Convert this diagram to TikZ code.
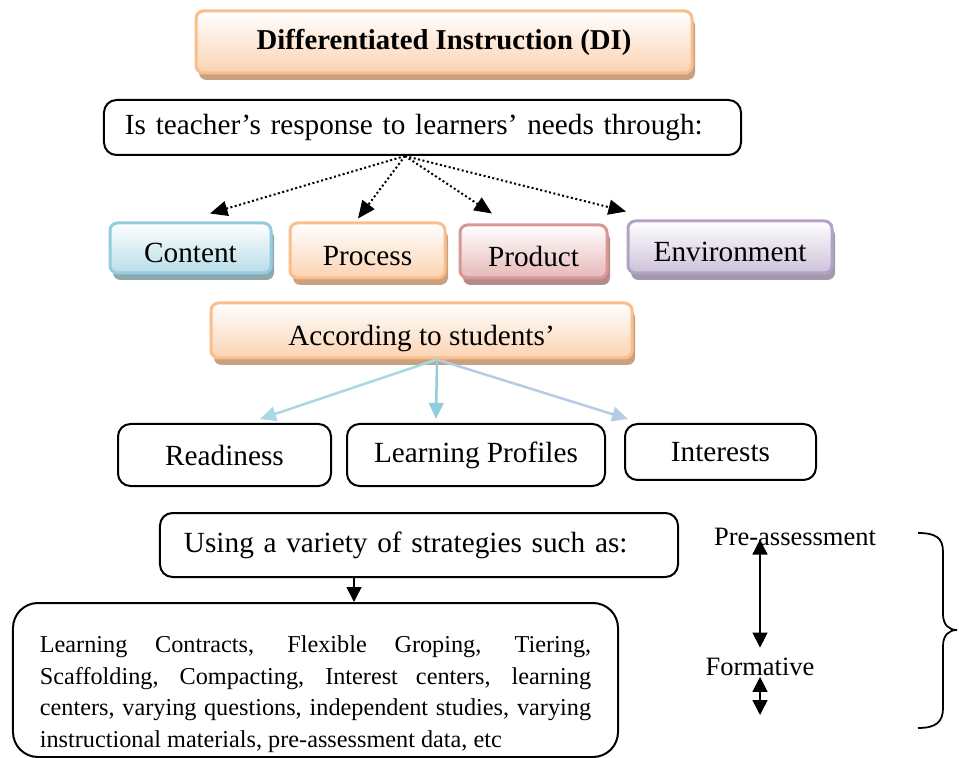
\documentclass[tikz,border=0pt]{standalone}
\usepackage{fontspec}
\setmainfont{Liberation Serif}
\usetikzlibrary{arrows.meta,shadows}

\definecolor{peachline}{HTML}{F9BE8C}
\definecolor{peachfill}{HTML}{FBD3B2}
\definecolor{peachshade}{HTML}{C9A080}
\definecolor{aqualine}{HTML}{93CDDD}
\definecolor{aquafill}{HTML}{B7DDE8}
\definecolor{aquashade}{HTML}{8FA8B0}
\definecolor{roseline}{HTML}{D99694}
\definecolor{rosefill}{HTML}{E6B9B8}
\definecolor{roseshade}{HTML}{B28B8A}
\definecolor{lilacline}{HTML}{B3A2C7}
\definecolor{lilacfill}{HTML}{CCC1DA}
\definecolor{lilacshade}{HTML}{A29BAD}
\definecolor{skyA}{HTML}{A9D8E6}
\definecolor{skyB}{HTML}{92CCDC}
\definecolor{skyC}{HTML}{B6CBE6}

\begin{document}
\begin{tikzpicture}[x=0.4pt,y=-0.4pt,
  size/.style 2 args={minimum width=#1*0.4pt,minimum height=#2*0.4pt},
  colbox/.style={draw=#1line,top color=white,bottom color=#1fill,
    line width=1.2pt,rounded corners=3pt,inner sep=0pt,text height=12pt,text depth=0pt,
    drop shadow={shadow xshift=1.2pt,shadow yshift=-2.8pt,fill=#1shade,opacity=1},
    font=\fontsize{11.7}{14}\selectfont},
  linebox/.style={draw,line width=0.8pt,rounded corners=5pt,inner sep=0pt,
    font=\fontsize{11.7}{14}\selectfont},
  dotarrow/.style={densely dotted,line width=0.8pt,-{Triangle[length=7pt,width=6pt]}},
  fanarrow/.style={draw=#1,line width=1pt,-{Triangle[length=6.4pt,width=5.8pt,fill=#1]}},
  blackarrow/.style={line width=0.6pt,-{Triangle[length=6pt,width=6pt]}},
  twoway/.style={line width=0.6pt,{Triangle[length=6pt,width=6pt]}-{Triangle[length=6pt,width=6pt]}},
  side/.style={font=\fontsize{10.6}{13}\selectfont,inner sep=1pt}]
  \useasboundingbox (0,0) rectangle (959,758);

  \node[colbox=peach,size={496}{62},text height=8pt,text depth=2pt,font=\bfseries\fontsize{11.5}{14}\selectfont] (di) at (444,42) {Differentiated Instruction (DI)};
  \node[linebox,size={637}{55},text width=238pt,inner xsep=8.4pt,align=left] (resp) at (422.5,127.5) {Is teacher’s response to learners’ needs through:};

  \node[colbox=aqua,size={161}{50}] (content) at (190.5,248) {Content};
  \node[colbox=peach,size={155}{55}] (process) at (367.5,250.5) {Process};
  \node[colbox=rose,size={147}{53}] (product) at (533.5,251.5) {Product};
  \node[colbox=lilac,size={204}{52}] (environ) at (730,247) {Environment};

  \coordinate (fan) at ([xshift=-7pt]resp.south);
  \draw[dotarrow] (fan) -- ([shift={(19.5,-8)}]content.north);
  \draw[dotarrow] (fan) -- ([shift={(-9.5,-3)}]process.north);
  \draw[dotarrow] (fan) -- ([shift={(-41.5,-10)}]product.north);
  \draw[dotarrow] (fan) -- ([shift={(-104,-8)}]environ.north);

  \node[colbox=peach,size={421}{55}] (according) at (421.5,330.5) {According to students’};

  \node[linebox,size={213}{62}] (readiness) at (224.5,455) {Readiness};
  \node[linebox,size={258}{62}] (profiles) at (476,455) {Learning Profiles};
  \node[linebox,size={191}{56}] (interests) at (720.5,452) {Interests};

  \coordinate (split) at ([xshift=6.2pt]according.south);
  \draw[fanarrow=skyA] (split) -- ([shift={(35.5,-4)}]readiness.north);
  \draw[fanarrow=skyB] (split) -- ([shift={(-40,-4)}]profiles.north);
  \draw[fanarrow=skyC] (split) -- ([shift={(-92.5,-4)}]interests.north);

  \node[linebox,size={518}{64},text width=188pt,inner xsep=9.6pt,align=left] (strategies) at (419,545) {Using a variety of strategies such as:};
  \node[linebox,rounded corners=10pt,size={605}{154},text width=220.5pt,inner xsep=10.75pt,align=justify,
    font=\fontsize{9.7}{12.6}\selectfont] (contracts) at (315.5,680)
    {\tolerance=9999\relax\hyphenpenalty=10000\relax
     \rule{0pt}{18pt}Learning Contracts, Flexible Groping, Tiering,\linebreak
     Scaffolding, Compacting, Interest centers, learning\linebreak
     centers, varying questions, independent studies, varying\linebreak
     instructional materials, pre-assessment data, etc};
  \draw[blackarrow] ([xshift=-26pt]strategies.south) -- ([xshift=-26pt]strategies.south |- contracts.north);

  \node[side] (pre) at (795,537) {Pre-assessment};
  \node[side] (formative) at (760,667) {Formative};
  \coordinate (low) at (760,715);
  \draw[twoway] ([yshift=2.4pt]pre.base -| formative.north) -- ([yshift=3pt]formative.north);
  \draw[twoway] ([yshift=0.8pt]formative.south) -- (low);

  \draw[line width=0.7pt] (918,533) .. controls (936,533) and (943,538) .. (943,552) -- (943,614)
    .. controls (943,625) and (949,630) .. (957,630) .. controls (949,630) and (943,635) .. (943,646)
    -- (943,708) .. controls (943,722) and (936,728) .. (918,728);
\end{tikzpicture}
\end{document}
